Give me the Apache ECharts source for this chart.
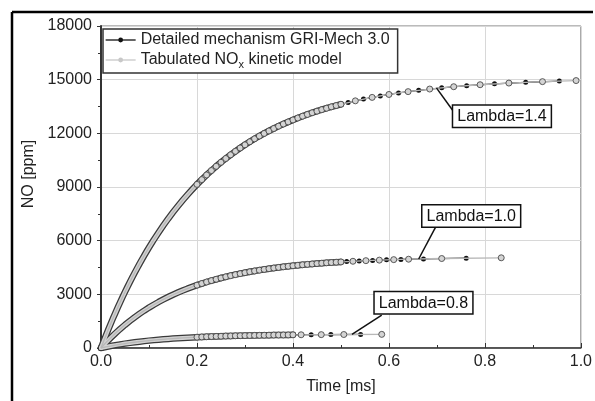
<!DOCTYPE html>
<html><head><meta charset="utf-8">
<script src="https://cdn.jsdelivr.net/npm/echarts@6/dist/echarts.min.js"></script>
<style>html,body{margin:0;padding:0;background:#fff}#c{width:595px;height:401px}</style>
</head><body><div id="c"></div>
<script>
// ---- data ----
const seriesNames = ['Detailed mechanism GRI-Mech 3.0', 'Tabulated NOx kinetic model'];
const xTicks = [0.0, 0.2, 0.4, 0.6, 0.8, 1.0];
const yTicks = [0, 3000, 6000, 9000, 12000, 15000, 18000];

// Lambda = 1.4
const t14Dense = [0,0.005,0.01,0.015,0.02,0.025,0.03,0.035,0.04,0.045,0.05,0.055,0.06,0.065,0.07,0.075,0.08,0.085,0.09,0.095,0.1,
  0.11,0.12,0.13,0.14,0.15,0.16,0.17,0.18,0.19,0.2,0.21,0.22,0.23,0.24,0.25,0.26,0.27,0.28,0.29,0.3,
  0.31,0.32,0.33,0.34,0.35,0.36,0.37,0.38,0.39,0.4,0.41,0.42,0.43,0.44,0.45,0.46,0.47,0.48,0.49,0.5];
const no14Dense = [0,347,686,1018,1341,1658,1966,2268,2563,2852,3133,3408,3677,3940,4196,4447,4692,4930,5164,5394,5616,
  6048,6458,6852,7227,7585,7926,8252,8562,8859,9145,9413,9673,9919,10155,10380,10594,10799,10993,11181,11358,
  11529,11692,11848,11994,12134,12270,12399,12521,12639,12750,12858,12959,13057,13151,13238,13323,13403,13481,13554,13625];
const t14TabTail = [0.53,0.565,0.6,0.64,0.685,0.735,0.79,0.85,0.92,0.99];
const no14TabTail = [13817,14010,14173,14331,14476,14606,14717,14810,14890,14949];
const t14DetTail = [0.515,0.547,0.582,0.62,0.662,0.71,0.762,0.82,0.885,0.955];
const no14DetTail = [13723,13915,14093,14256,14405,14544,14664,14768,14854,14922];

// Lambda = 1.0
const t10Dense = [0,0.01,0.02,0.03,0.04,0.05,0.06,0.07,0.08,0.09,0.1,0.11,0.12,0.13,0.14,0.15,0.16,0.17,0.18,0.19,0.2,
  0.21,0.22,0.23,0.24,0.25,0.26,0.27,0.28,0.29,0.3,0.31,0.32,0.33,0.34,0.35,0.36,0.37,0.38,0.39,0.4,
  0.41,0.42,0.43,0.44,0.45,0.46,0.47,0.48,0.49,0.5];
const no10Dense = [0,290,564,822,1065,1294,1511,1715,1907,2088,2259,2420,2573,2715,2850,2978,3098,3211,3318,3418,3513,
  3603,3688,3767,3842,3913,3979,4042,4101,4157,4210,4260,4307,4351,4393,4432,4469,4504,4537,4568,4597,
  4624,4650,4675,4698,4720,4741,4760,4778,4796,4812];
const t10TabTail = [0.525,0.552,0.58,0.61,0.641,0.71,0.834];
const no10TabTail = [4848,4882,4912,4940,4963,5002,5042];
const t10DetTail = [0.512,0.538,0.566,0.595,0.625,0.672,0.761];
const no10DetTail = [4830,4866,4898,4927,4951,4982,5022];

// Lambda = 0.8
const t08Dense = [0,0.01,0.02,0.03,0.04,0.05,0.06,0.07,0.08,0.09,0.1,0.11,0.12,0.13,0.14,0.15,0.16,0.17,0.18,0.19,0.2,
  0.21,0.22,0.23,0.24,0.25,0.26,0.27,0.28,0.29,0.3,0.31,0.32,0.33,0.34,0.35,0.36,0.37,0.38,0.39,0.4];
const no08Dense = [0,57,110,159,204,246,285,321,354,385,413,440,464,487,508,527,545,562,577,591,605,
  617,628,639,648,657,666,674,681,687,693,699,704,709,714,718,722,725,729,732,735];
const t08TabTail = [0.417,0.459,0.506,0.585];
const no08TabTail = [739,747,754,762];
const t08DetTail = [0.438,0.479,0.541];
const no08DetTail = [744,751,758];

// annotation labels
const annLabels = ['Lambda=1.4', 'Lambda=1.0', 'Lambda=0.8'];

// ---- build ----
function zip(ts, vs) { return ts.map((t, i) => [t, vs[i]]); }
const FONT = '"Liberation Sans", Arial, sans-serif';
const TXT = '#222';
const BAND_END = 0.2; // below this the output points merge into a continuous band

function detSeries(data) {
  return {
    name: seriesNames[0], type: 'line', data: data, z: 2,
    symbol: 'circle', symbolSize: 5, showSymbol: true,
    lineStyle: { color: '#111', width: 1.3 },
    itemStyle: { color: '#111', borderWidth: 0 },
    emphasis: { disabled: true }, animation: false
  };
}
function tabSeries(data) {
  return {
    name: seriesNames[1], type: 'line', data: data, z: 6,
    symbol: 'circle', showSymbol: true,
    symbolSize: function (v) { return v[0] < BAND_END ? 0 : 6; },
    lineStyle: { color: '#b8b8b8', width: 1.3 },
    itemStyle: { color: '#d4d4d4', borderColor: '#4a4a4a', borderWidth: 0.9 },
    emphasis: { disabled: true }, animation: false
  };
}
function bandSeries(data, color, width, z) {
  return {
    name: 'band', type: 'line', data: data, z: z,
    showSymbol: false, symbol: 'none', silent: true,
    lineStyle: { color: color, width: width, cap: 'round', join: 'round' },
    emphasis: { disabled: true }, animation: false
  };
}

const tab14 = zip(t14Dense.concat(t14TabTail), no14Dense.concat(no14TabTail));
const tab10 = zip(t10Dense.concat(t10TabTail), no10Dense.concat(no10TabTail));
const tab08 = zip(t08Dense.concat(t08TabTail), no08Dense.concat(no08TabTail));
const band14 = zip(t14Dense, no14Dense);
const band10 = zip(t10Dense, no10Dense);
const band08 = zip(t08Dense, no08Dense);

const series = [
  detSeries(zip(t14Dense.concat(t14DetTail), no14Dense.concat(no14DetTail))),
  detSeries(zip(t10Dense.concat(t10DetTail), no10Dense.concat(no10DetTail))),
  detSeries(zip(t08Dense.concat(t08DetTail), no08Dense.concat(no08DetTail))),
  bandSeries(band14, '#3a3a3a', 6.5, 4), bandSeries(band10, '#3a3a3a', 6.5, 4), bandSeries(band08, '#3a3a3a', 6.5, 4),
  bandSeries(band14, '#d2d2d2', 4, 5), bandSeries(band10, '#d2d2d2', 4, 5), bandSeries(band08, '#d2d2d2', 4, 5),
  tabSeries(tab14), tabSeries(tab10), tabSeries(tab08)
];

const chart = echarts.init(document.getElementById('c'), null, { renderer: 'canvas' });
chart.setOption({
  animation: false,
  backgroundColor: '#fff',
  textStyle: { fontFamily: FONT },
  grid: { left: 101, right: 12, top: 26, bottom: 53, show: true, borderColor: '#777', borderWidth: 1, backgroundColor: 'transparent' },
  legend: {
    data: [
      { name: seriesNames[0], itemStyle: { color: '#111', borderWidth: 0 }, lineStyle: { color: '#111', width: 1.3 } },
      { name: seriesNames[1], itemStyle: { color: '#c8c8c8', borderWidth: 0 }, lineStyle: { color: '#c8c8c8', width: 1.3 } }
    ],
    orient: 'vertical', left: 103, top: 29,
    itemWidth: 30, itemHeight: 6, itemGap: 4,
    backgroundColor: '#fff', borderColor: '#333', borderWidth: 1.5, borderRadius: 0,
    padding: [3, 8, 3, 2],
    formatter: function (name) { return name.replace('NOx', 'NO{sub|x}'); },
    textStyle: { fontSize: 16, color: TXT, fontFamily: FONT,
      rich: { sub: { fontSize: 11, color: TXT, fontFamily: FONT, padding: [9, 0, 0, 0] } } }
  },
  xAxis: {
    type: 'value', min: xTicks[0], max: xTicks[xTicks.length - 1], interval: 0.2,
    name: 'Time [ms]', nameLocation: 'middle', nameGap: 31,
    nameTextStyle: { fontSize: 16, color: TXT, fontFamily: FONT },
    axisLine: { show: true, onZero: false, lineStyle: { color: '#333', width: 1.5 } },
    axisTick: { show: true, inside: true, length: 5, lineStyle: { color: '#333' } },
    minorTick: { show: true, splitNumber: 2, length: 3, lineStyle: { color: '#333' } },
    axisLabel: { fontSize: 16, color: TXT, margin: 6, fontFamily: FONT,
      formatter: function (v) { return v.toFixed(1); } },
    splitLine: { show: true, lineStyle: { color: '#d8d8d8', width: 1 } }
  },
  yAxis: {
    type: 'value', min: yTicks[0], max: yTicks[yTicks.length - 1], interval: 3000,
    name: 'NO [ppm]', nameLocation: 'middle', nameGap: 58, nameRotate: 90,
    nameTextStyle: { fontSize: 16, color: TXT, fontFamily: FONT, padding: [0, 0, 0, 26] },
    axisLine: { show: true, onZero: false, lineStyle: { color: '#333', width: 2 } },
    axisTick: { show: true, inside: false, length: 4, lineStyle: { color: '#333' } },
    minorTick: { show: true, splitNumber: 2, length: 3, lineStyle: { color: '#333' } },
    axisLabel: { fontSize: 16, color: TXT, margin: 9, fontFamily: FONT,
      formatter: function (v) { return String(v); } },
    splitLine: { show: true, lineStyle: { color: '#d8d8d8', width: 1 } }
  },
  series: series
});

// annotations: anchor positions given in data coordinates
const annPos = [
  { curve: [0.699, 14540], attach: [0.7365, 13152], box: [0.734, 13543] },
  { curve: [0.662, 4975], attach: [0.697, 6743], box: [0.670, 7969] },
  { curve: [0.523, 757], attach: [0.585, 1839], box: [0.5705, 3121] }
];
const px = p => chart.convertToPixel({ gridIndex: 0 }, p);
const graphics = [
  { type: 'line', shape: { x1: 12, y1: 12, x2: 593, y2: 12 }, style: { stroke: '#000', lineWidth: 2.5 }, z: 100 },
  { type: 'line', shape: { x1: 12, y1: 12, x2: 12, y2: 401 }, style: { stroke: '#000', lineWidth: 2.5 }, z: 100 }
];
annPos.forEach((a, i) => {
  const c = px(a.curve), at = px(a.attach), b = px(a.box);
  graphics.push({ type: 'line', shape: { x1: c[0], y1: c[1], x2: at[0], y2: at[1] }, style: { stroke: '#111', lineWidth: 1.5 }, z: 50 });
  graphics.push({ type: 'text', x: b[0], y: b[1], z: 51,
    style: { text: annLabels[i], font: '16px ' + FONT, fill: '#111', backgroundColor: '#fff',
      borderColor: '#111', borderWidth: 1.5, padding: [3, 4, 2, 4] } });
});
chart.setOption({ graphic: graphics });
</script></body></html>
